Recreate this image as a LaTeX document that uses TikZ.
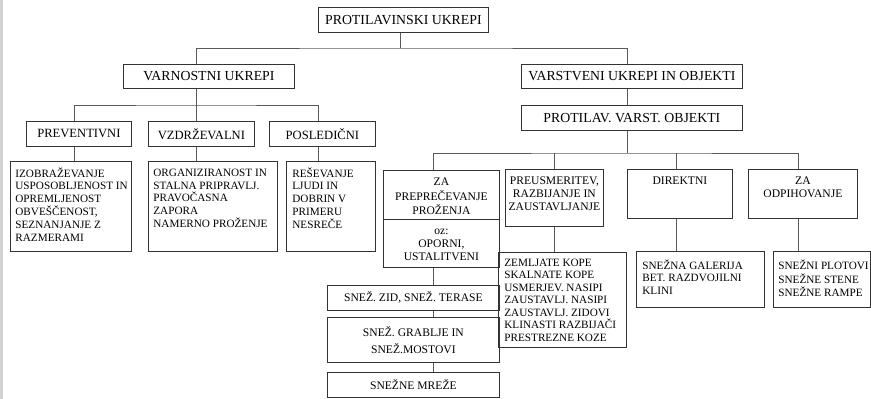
\documentclass[tikz,border=0pt]{standalone}
\usepackage{fontspec}
\setmainfont{Liberation Serif}
\usetikzlibrary{positioning}
\usepackage{xcolor}

% fixed-size text block: width, height, alignment, top pad, lines
\newcommand{\boxtxt}[5]{\parbox[c][#2pt][t]{#1pt}{#3\vspace*{#4pt}\strut\ignorespaces#5}}

\begin{document}
\begin{tikzpicture}[
    x=1pt, y=-1pt,
    box/.style={draw=black!80, line width=0.8pt, anchor=north west, inner sep=0pt, align=center},
    hdr/.style={box, font=\fontsize{13.8}{15}\selectfont},
    mid/.style={box, font=\fontsize{12.6}{14}\selectfont},
    subbox/.style={box, font=\fontsize{11.6}{13}\selectfont},
    leafbox/.style={box, font=\fontsize{11.2}{12.8}\selectfont},
    link/.style={draw=black!65, line width=0.8pt}
]
    \useasboundingbox (0,0) rectangle (871,399);
    \fill[gray!35] (0,0) rectangle (3,399);

    % Level 1 and 2
    \node[hdr, minimum width=170pt, minimum height=25pt] (root) at (318,7) {PROTILAVINSKI UKREPI};
    \node[hdr, minimum width=171pt, minimum height=24pt] (varn) at (123,64) {VARNOSTNI UKREPI};
    \node[hdr, minimum width=221pt, minimum height=24pt] (varst) at (521,64) {VARSTVENI UKREPI IN OBJEKTI};
    \node[hdr, minimum width=221pt, minimum height=25pt] (protv) at (521,105) {PROTILAV. VARST. OBJEKTI};

    % Varnostni ukrepi
    \node[mid, minimum width=105pt, minimum height=25pt] (prev) at (26,121) {PREVENTIVNI};
    \node[mid, minimum width=106pt, minimum height=25pt] (vzdr) at (148,121) {VZDRŽEVALNI};
    \node[mid, minimum width=106pt, minimum height=25pt] (posl) at (269,121) {POSLEDIČNI};

    \node[leafbox] (izo) at (10,161) {\boxtxt{121}{90}{\raggedright\leftskip=5pt}{6}{IZOBRAŽEVANJE\\USPOSOBLJENOST IN\\OPREMLJENOST\\OBVEŠČENOST,\\SEZNANJANJE Z\\RAZMERAMI}};
    \node[leafbox] (org) at (148,161) {\boxtxt{129}{90}{\raggedright\leftskip=5pt}{6}{ORGANIZIRANOST IN\\STALNA PRIPRAVLJ.\\PRAVOČASNA\\ZAPORA\\NAMERNO PROŽENJE}};
    \node[leafbox] (res) at (286,161) {\boxtxt{89}{90}{\raggedright\leftskip=6pt}{6}{REŠEVANJE\\LJUDI IN\\DOBRIN V\\PRIMERU\\NESREČE}};

    % Protilavinski varstveni objekti
    \node[subbox, font=\fontsize{11.6}{14}\selectfont] (zapre) at (383,170) {\boxtxt{116}{49}{\centering}{5}{ZA\\PREPREČEVANJE\\PROŽENJA}};
    \node[subbox] (zapreoz) at (383,219) {\boxtxt{116}{48}{\centering}{6}{oz:\\OPORNI,\\USTALITVENI}};
    \node[subbox] (preus) at (505,169) {\boxtxt{98}{57}{\centering}{6}{PREUSMERITEV,\\RAZBIJANJE IN\\ZAUSTAVLJANJE}};
    \node[subbox] (direk) at (627,169) {\boxtxt{105}{49}{\centering}{6}{DIREKTNI}};
    \node[subbox] (odpih) at (748,169) {\boxtxt{109}{49}{\centering}{6}{ZA\\ODPIHOVANJE}};

    \node[subbox, minimum width=172pt, minimum height=25pt] (sniez) at (327,285) {SNEŽ. ZID, SNEŽ. TERASE};
    \node[subbox, minimum width=172pt, minimum height=45pt, font=\fontsize{11.6}{17}\selectfont] (grab) at (327,317) {SNEŽ. GRABLJE IN\\SNEŽ.MOSTOVI};
    \node[subbox, minimum width=172pt, minimum height=25pt] (mreze) at (327,372) {SNEŽNE MREŽE};

    \node[leafbox, font=\fontsize{11.2}{12.5}\selectfont] (zemlj) at (498,252) {\boxtxt{128}{95}{\raggedright\leftskip=6pt}{5}{ZEMLJATE KOPE\\SKALNATE KOPE\\USMERJEV. NASIPI\\ZAUSTAVLJ. NASIPI\\ZAUSTAVLJ. ZIDOVI\\KLINASTI RAZBIJAČI\\PRESTREZNE KOZE}};
    \node[leafbox] (galer) at (636,251) {\boxtxt{128}{56}{\raggedright\leftskip=6pt}{8}{SNEŽNA GALERIJA\\BET. RAZDVOJILNI\\KLINI}};
    \node[leafbox] (plot) at (773,251) {\boxtxt{97}{56}{\raggedright\leftskip=5pt}{8}{SNEŽNI PLOTOVI\\SNEŽNE STENE\\SNEŽNE RAMPE}};

    % Connectors
    \coordinate (bus0) at (400,48);
    \coordinate (bus1) at (196,105);
    \coordinate (bus2) at (627,153);

    \draw[link] (root.south -| bus0) -- (bus0);
    \draw[link] (varn.north -| bus1) |- (bus0) -| (varst.north -| bus2);
    \draw[link] (varst.south -| bus2) -- (protv.north -| bus2);

    \draw[link] (varn.south -| bus1) -- (bus1);
    \draw[link] (prev.north -| 74,0) |- (bus1) -| (posl.north -| 318,0);
    \draw[link] (vzdr.north -| bus1) -- (bus1);
    \draw[link] (prev.south -| 74,0) -- (izo.north -| 74,0);
    \draw[link] (vzdr.south -| bus1) -- (org.north -| bus1);
    \draw[link] (posl.south -| 318,0) -- (res.north -| 318,0);

    \draw[link] (protv.south -| bus2) -- (bus2);
    \draw[link] (zapre.north -| 433,0) |- (bus2) -| (odpih.north -| 798,0);
    \draw[link] (preus.north -| 554,0) -- (bus2 -| 554,0);
    \draw[link] (direk.north -| 676,0) -- (bus2 -| 676,0);

    \draw[link] (zapreoz.south -| 433,0) -- (sniez.north -| 433,0);
    \draw[link] (sniez.south -| 433,0) -- (grab.north -| 433,0);
    \draw[link] (grab.south -| 433,0) -- (mreze.north -| 433,0);
    \draw[link] (preus.south -| 554,0) -- (zemlj.north -| 554,0);
    \draw[link] (direk.south -| 676,0) -- (galer.north -| 676,0);
    \draw[link] (odpih.south -| 798,0) -- (plot.north -| 798,0);
\end{tikzpicture}
\end{document}
